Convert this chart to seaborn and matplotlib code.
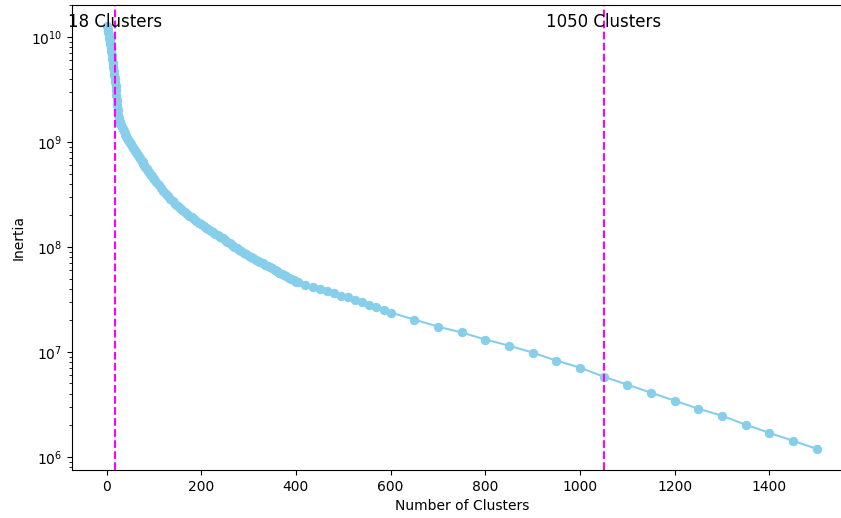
import matplotlib
matplotlib.use("Agg")
import matplotlib.pyplot as plt
import seaborn as sns
import pandas as pd

# Number of clusters evaluated
clusters_steep = list(range(2, 31))
clusters_mid = list(range(32, 101, 2))
clusters_dense = list(range(105, 401, 5))
clusters_step15 = [405, 420, 435, 450, 465, 480, 495, 510, 525, 540, 555, 570, 585, 600]
clusters_step50 = [650, 700, 750, 800, 850, 900, 950, 1000, 1050, 1100,
                   1150, 1200, 1250, 1300, 1350, 1400, 1450, 1500]

# Inertia values
inertia_steep = [1.27e10, 1.19e10, 1.12e10, 1.045e10, 9.78e9, 9.16e9, 8.58e9, 7.85e9,
                 7.35e9, 6.73e9, 6.17e9, 5.65e9, 5.17e9, 4.74e9, 4.39e9, 4.06e9,
                 3.72e9, 3.41e9, 3.12e9, 2.80e9, 2.50e9, 2.24e9, 2.01e9, 1.80e9,
                 1.685e9, 1.613e9, 1.544e9, 1.494e9, 1.445e9]
inertia_mid = [1.383e9, 1.323e9, 1.266e9, 1.217e9, 1.173e9, 1.132e9, 1.093e9, 1.055e9,
               1.019e9, 9.83e8, 9.50e8, 9.17e8, 8.85e8, 8.54e8, 8.25e8, 7.96e8,
               7.69e8, 7.44e8, 7.22e8, 7.00e8, 6.79e8, 6.58e8, 6.38e8, 6.19e8,
               6.00e8, 5.82e8, 5.64e8, 5.47e8, 5.30e8, 5.14e8, 4.99e8, 4.84e8,
               4.69e8, 4.55e8, 4.41e8]
inertia_dense = [4.13e8, 3.87e8, 3.64e8, 3.42e8, 3.22e8, 3.03e8, 2.87e8, 2.72e8,
                 2.59e8, 2.46e8, 2.36e8, 2.26e8, 2.16e8, 2.07e8, 1.99e8, 1.91e8,
                 1.84e8, 1.77e8, 1.70e8, 1.64e8, 1.58e8, 1.52e8, 1.47e8, 1.42e8,
                 1.375e8, 1.331e8, 1.288e8, 1.246e8, 1.205e8, 1.166e8, 1.122e8, 1.080e8,
                 1.039e8, 1.00e8, 9.68e7, 9.36e7, 9.05e7, 8.76e7, 8.48e7, 8.21e7,
                 7.99e7, 7.77e7, 7.56e7, 7.35e7, 7.15e7, 6.96e7, 6.77e7, 6.58e7,
                 6.40e7, 6.23e7, 6.03e7, 5.84e7, 5.68e7, 5.52e7, 5.37e7, 5.23e7,
                 5.09e7, 4.95e7, 4.81e7, 4.68e7]
inertia_step15 = [4.61e7, 4.37e7, 4.13e7, 3.93e7, 3.76e7, 3.60e7, 3.44e7, 3.30e7,
                  3.13e7, 2.96e7, 2.81e7, 2.65e7, 2.50e7, 2.37e7]
inertia_step50 = [2.03e7, 1.74e7, 1.53e7, 1.31e7, 1.147e7, 9.83e6, 8.25e6, 7.07e6,
                  5.80e6, 4.87e6, 4.08e6, 3.42e6, 2.87e6, 2.46e6, 2.02e6, 1.69e6,
                  1.42e6, 1.19e6]

elbow_marks = [18, 1050]
elbow_labels = ["18 Clusters", "1050 Clusters"]

df = pd.DataFrame({
    "clusters": clusters_steep + clusters_mid + clusters_dense + clusters_step15 + clusters_step50,
    "inertia": inertia_steep + inertia_mid + inertia_dense + inertia_step15 + inertia_step50,
})

fig = plt.figure(figsize=(8.41, 5.18), dpi=100)
ax = fig.add_axes([72 / 841, 48 / 518, 780.3 / 841, 465 / 518])

sns.lineplot(data=df, x="clusters", y="inertia", ax=ax, marker="o",
             color="skyblue", linewidth=1.5, markersize=6,
             markeredgecolor="skyblue", markeredgewidth=0.75)
ax.set_yscale("log")

for xv, lab in zip(elbow_marks, elbow_labels):
    ax.axvline(xv, color="magenta", linestyle="--", linewidth=1.5)
    ax.text(xv, 0.963, lab, transform=ax.get_xaxis_transform(),
            ha="center", va="center", fontsize=12)

ax.set_xlabel("Number of Clusters")
ax.set_ylabel("Inertia")

fig.savefig("out.png", dpi=100)
